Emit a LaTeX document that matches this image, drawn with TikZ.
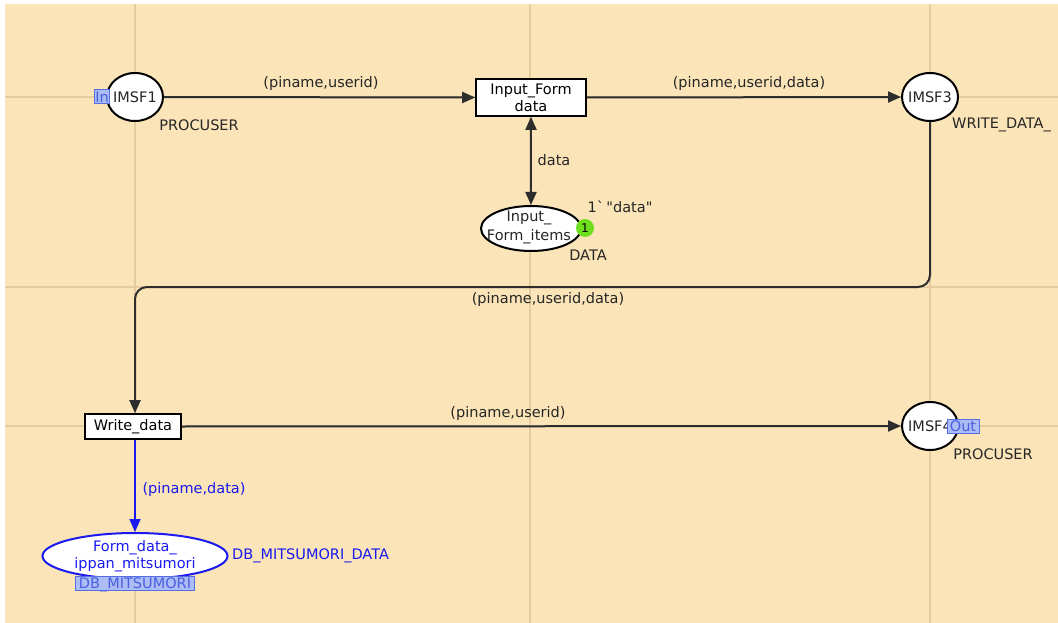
\documentclass[tikz,border=0pt]{standalone}
\usepackage{fontspec}
\setmainfont{DejaVu Sans}
\usetikzlibrary{arrows.meta,shapes.geometric}
\definecolor{bg}{RGB}{250,228,184}
\definecolor{gridc}{RGB}{228,204,158}
\definecolor{arcc}{RGB}{45,45,45}
\definecolor{dbblue}{RGB}{25,25,240}
\definecolor{tagfill}{RGB}{172,188,245}
\definecolor{tagdraw}{RGB}{85,110,230}
\definecolor{tagtext}{RGB}{75,95,225}
\definecolor{tok}{RGB}{110,222,30}
\begin{document}
\begin{tikzpicture}[x=1pt,y=-1pt,
  font=\fontsize{14.5}{17}\selectfont,
  place/.style={ellipse, draw=black, line width=2pt, fill=white, inner sep=0pt, minimum width=56pt, minimum height=48pt},
  trans/.style={rectangle, draw=black, line width=1.6pt, fill=white, align=center, inner sep=0pt},
  arcline/.style={draw=arcc, line width=2pt, -{Triangle[length=13pt,width=11pt]}},
  lbl/.style={text=black!85, inner sep=0pt},
  tag/.style={rectangle, fill=tagfill, draw=tagdraw, line width=1pt, text=tagtext, inner sep=1pt, minimum height=14pt, text depth=0pt},
  gridline/.style={draw=gridc, line width=2pt}]
\useasboundingbox (0,0) rectangle (1058,623);
\fill[white] (0,0) rectangle (1058,623);
\fill[bg] (5,4) rectangle (1058,623);
% grid
\draw[gridline] (135,4) -- (135,623);
\draw[gridline] (530,4) -- (530,623);
\draw[gridline] (930,4) -- (930,623);
\draw[gridline] (5,97) -- (1058,97);
\draw[gridline] (5,287) -- (1058,287);
\draw[gridline] (5,426) -- (1058,426);
% nodes
\node[place] (p1) at (135,97) {};
\node[lbl, anchor=west] (p1t) at (113,97) {IMSF1};
\node[tag] (tin) at (102,97) {In};
\node[lbl] (p1c) at (199,125) {PROCUSER};

\node[trans, minimum width=110pt, minimum height=37pt] (t1) at (531,97.5) {Input\_Form\\data};

\node[place] (p3) at (930,97) {};
\node[lbl] (p3t) at (930,97) {IMSF3};
\node[lbl, anchor=west] (p3c) at (952,125) {WRITE\_DATA\_};

\node[place, minimum width=100pt, minimum height=45pt] (p2) at (531,228.5) {};
\node[lbl, align=center, font=\fontsize{14.5}{19}\selectfont] (p2t) at (529,227) {Input\_\\Form\_items};
\node[circle, fill=tok, minimum size=18pt, inner sep=0pt, font=\fontsize{12}{14}\selectfont] (tk) at (585,228) {1};
\node[lbl] (p2m) at (620,207) {1\textasciigrave\,\textquotedbl data\textquotedbl};
\node[lbl] (p2c) at (588,255) {DATA};

\node[trans, minimum width=96pt, minimum height=25pt] (tw) at (133,426.5) {Write\_data};

\node[place] (p4) at (930,426) {};
\node[lbl, anchor=west] (p4t) at (908,426) {IMSF4};
\node[tag, minimum width=32pt] (tout) at (963,426) {Out};
\node[lbl] (p4c) at (993,454) {PROCUSER};

\node[ellipse, draw=dbblue, line width=2pt, fill=white, inner sep=0pt, minimum width=185pt, minimum height=46pt] (p5) at (135,556) {};
\node[align=center, text=dbblue, inner sep=0pt] (p5t) at (135,556) {Form\_data\_\\ippan\_mitsumori};
\node[text=dbblue, anchor=west, inner sep=0pt] (p5c) at (232,556) {DB\_MITSUMORI\_DATA};
\node[tag, minimum width=119pt] (tdb) at (135,583) {DB\_MITSUMORI};

% arcs
\draw[arcline] (p1.east) -- (t1.west);
\node[lbl] (a1) at (321,84) {(piname,userid)};
\draw[arcline] (t1.east) -- (p3.west);
\node[lbl] (a2) at (749,84) {(piname,userid,data)};
\draw[draw=arcc, line width=2pt, {Triangle[length=13pt,width=11pt]}-{Triangle[length=13pt,width=11pt]}] (t1.south) -- (p2.north);
\node[lbl] (a3) at (554,160) {data};
\coordinate (c1) at (930,287);
\coordinate (c2) at (135,287);
\draw[arcline, rounded corners=12pt] (p3.south) -- (c1) -- (c2) -- (c2 |- tw.north);
\node[lbl] (a4) at (548,299) {(piname,userid,data)};
\draw[arcline] (tw.east) -- (p4.west);
\node[lbl] (a5) at (508,413) {(piname,userid)};
\draw[draw=dbblue, line width=1.6pt, -{Triangle[length=13pt,width=11pt]}] (tw.south -| p5.north) -- (p5.north);
\node[text=dbblue, inner sep=0pt] (a6) at (194,489) {(piname,data)};
\end{tikzpicture}
\end{document}
